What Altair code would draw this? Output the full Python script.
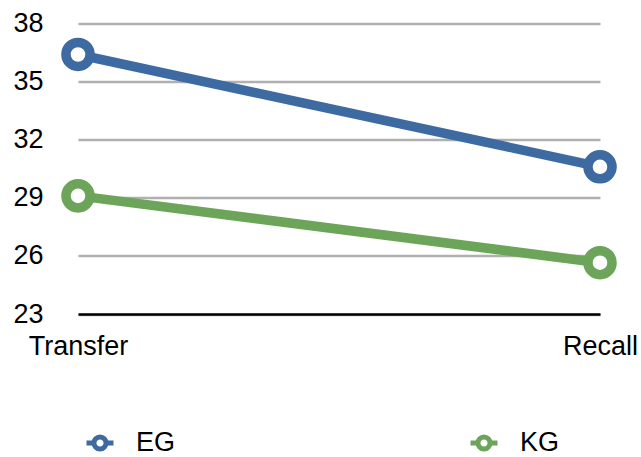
import altair as alt
import pandas as pd

conditions = ["Transfer", "Recall"]
eg_values = [36.4, 30.6]
kg_values = [29.1, 25.65]
groups = ["EG", "KG"]
colors = ["#3D6AA0", "#6CA45A"]
y_ticks = [23, 26, 29, 32, 35, 38]

rows = []
for g, vals in zip(groups, [eg_values, kg_values]):
    for c, v in zip(conditions, vals):
        rows.append({"cond": c, "value": v, "group": g})
df = pd.DataFrame(rows)

legend_path = ("M -1 0 L -0.45 0 M 0.45 0 L 1 0 "
               "M -0.45 0 A 0.45 0.45 0 1 0 0.45 0 A 0.45 0.45 0 1 0 -0.45 0 Z")

x = alt.X("cond:N", sort=conditions, title=None,
          scale=alt.Scale(type="point", padding=0),
          axis=alt.Axis(labelAngle=0, labelFontSize=27, labelColor="black",
                        labelFont="Liberation Sans", ticks=False,
                        domainColor="black", domainWidth=2.5, labelPadding=19,
                        grid=False))
y = alt.Y("value:Q", title=None,
          scale=alt.Scale(domain=[23, 38], nice=False, zero=False),
          axis=alt.Axis(values=y_ticks, labelFontSize=27, labelColor="black",
                        labelFont="Liberation Sans", ticks=False, domain=False,
                        labelPadding=35, gridColor="#B0B0B0", gridWidth=2.5))
color = alt.Color("group:N", scale=alt.Scale(domain=groups, range=colors),
                  legend=alt.Legend(title=None, orient="none", direction="horizontal",
                                    legendX=6, legendY=403, columns=2,
                                    columnPadding=284, symbolType=legend_path,
                                    symbolSize=729, symbolStrokeWidth=5,
                                    labelFontSize=27, labelFont="Liberation Sans",
                                    labelColor="black", labelOffset=20,
                                    labelLimit=300))

lines = alt.Chart(df).mark_line(strokeWidth=9.5).encode(x=x, y=y, color=color)
points = alt.Chart(df).mark_point(filled=False, fill="white", fillOpacity=1,
                                  strokeWidth=9.5, size=580, opacity=1).encode(
    x=x, y=y, color=alt.Color("group:N", scale=alt.Scale(domain=groups, range=colors), legend=None))

chart = (lines + points).properties(
    width=522, height=290.5,
    autosize=alt.AutoSizeParams(type="none"),
    padding={"left": 78, "top": 23.5, "right": 41, "bottom": 143},
    background="white",
).configure_view(stroke=None)

chart.save("out.html", embed_options={"renderer": "svg", "actions": False})
